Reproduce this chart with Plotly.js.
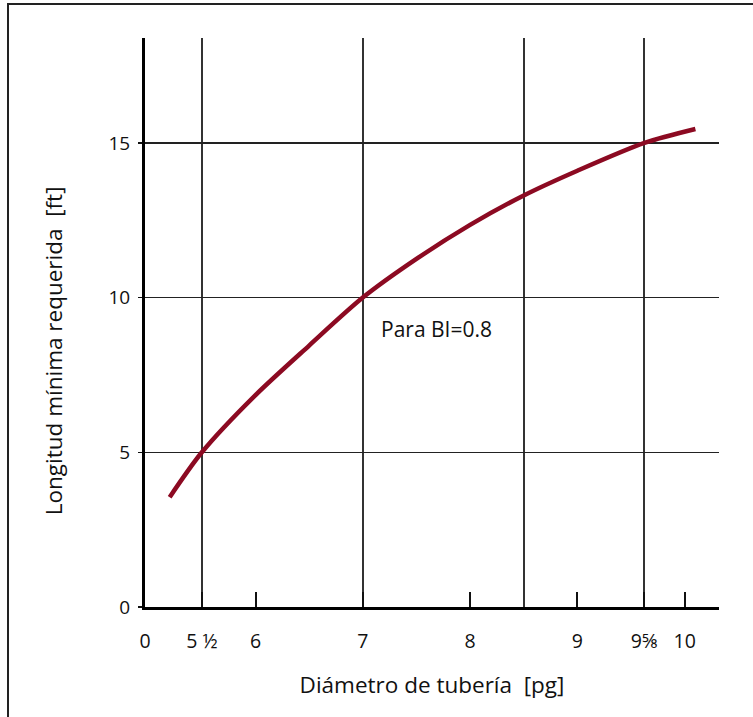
<!DOCTYPE html>
<html>
<head>
<meta charset="utf-8">
<script src="https://cdn.plot.ly/plotly-3.0.1.min.js"></script>
<style>
  html, body { margin: 0; padding: 0; background: #fff; }
  #wrap { position: relative; width: 753px; height: 717px; overflow: hidden; }
  #chart { position: absolute; left: 0; top: 0; width: 753px; height: 717px; }
  #frame { position: absolute; left: 7px; top: 3px; width: 800px; height: 800px;
           border-left: 2px solid #222; border-top: 2px solid #222; pointer-events: none; }
</style>
</head>
<body>
<div id="wrap">
  <div id="chart"></div>
  <div id="frame"></div>
</div>
<script>
// Curve: minimum required length [ft] vs pipe diameter [in], BI = 0.8
const diameter = [5.2, 5.5, 6.0, 6.5, 7.0, 7.5, 8.0, 8.5, 9.0, 9.625, 10.1];
const minLength = [3.55, 5.0, 6.85, 8.45, 10.0, 11.25, 12.35, 13.3, 14.1, 15.0, 15.45];

// x-axis (broken axis: left edge labelled "0")
const xStart = 4.97;
const xEnd = 10.32;
const xTickVals = [xStart, 5.5, 6, 7, 8, 9, 9.625, 10];
const xTickText = ['0', '5 \u00BD', '6', '7', '8', '9', '9\u215D', '10'];
const xGridVals = [5.5, 7, 8.5, 9.625];

// y-axis
const yRange = [0, 18.39];
const yTickVals = [0, 5, 10, 15];
const yTickText = ['0', '5', '10', '15'];

const labelText = 'Para BI=0.8';
const labelPos = [7.69, 8.98];
const xTitle = 'Di\u00E1metro de tuber\u00EDa  [pg]';
const yTitle = 'Longitud m\u00EDnima requerida  [ft]';

const FONT = '"Open Sans", "Noto Sans", sans-serif';
const TXT = '#111';

const trace = {
  x: diameter,
  y: minLength,
  type: 'scatter',
  mode: 'lines',
  line: { color: '#8c0a22', width: 4.5, shape: 'spline', smoothing: 0.8 },
  hoverinfo: 'x+y',
  showlegend: false
};

const layout = {
  width: 753,
  height: 717,
  margin: { l: 145, r: 34, t: 38, b: 110 },
  paper_bgcolor: '#fff',
  plot_bgcolor: '#fff',
  font: { family: FONT, color: TXT, size: 19 },
  xaxis: {
    range: [xStart, xEnd],
    tickmode: 'array',
    tickvals: xTickVals,
    ticktext: xTickText,
    ticks: 'inside',
    ticklen: 15,
    tickwidth: 2,
    tickcolor: '#111',
    ticklabelstandoff: 15,
    tickfont: { family: FONT, size: 19.5, color: TXT },
    showline: true,
    linewidth: 3,
    linecolor: '#000',
    showgrid: false,
    zeroline: false,
    minor: {
      tickmode: 'array',
      tickvals: xGridVals,
      showgrid: true,
      gridcolor: '#333',
      gridwidth: 2,
      ticks: ''
    },
    title: { text: xTitle, font: { family: FONT, size: 22.5, color: TXT }, standoff: 24 }
  },
  yaxis: {
    range: yRange,
    tickmode: 'array',
    tickvals: yTickVals,
    ticktext: yTickText,
    ticks: 'outside',
    ticklen: 4,
    tickwidth: 1.5,
    tickcolor: '#111',
    ticklabelstandoff: 4,
    tickfont: { family: FONT, size: 19, color: TXT },
    showline: true,
    linewidth: 3,
    linecolor: '#000',
    showgrid: true,
    gridcolor: '#222',
    gridwidth: 1.5,
    zeroline: false
  },
  annotations: [
    {
      x: labelPos[0], y: labelPos[1], xref: 'x', yref: 'y',
      text: labelText, showarrow: false,
      font: { family: FONT, size: 21, color: TXT }
    },
    {
      xref: 'paper', yref: 'paper', x: -0.158, y: 0.45,
      xanchor: 'center', yanchor: 'middle',
      text: yTitle, textangle: -90, showarrow: false,
      font: { family: FONT, size: 22.5, color: TXT }
    }
  ]
};

Plotly.newPlot('chart', [trace], layout, { staticPlot: true, displayModeBar: false });
</script>
</body>
</html>
